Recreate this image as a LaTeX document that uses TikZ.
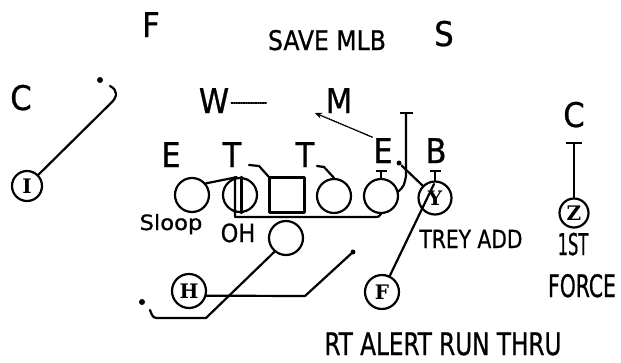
\documentclass[tikz,border=0pt]{standalone}
\usepackage{graphicx}
\usepackage{fontspec}
\setmainfont{DejaVu Sans Condensed}[FakeBold=0.8]
\newfontfamily\circfont{DejaVu Serif}
\usetikzlibrary{arrows.meta}
\begin{document}
\begin{tikzpicture}[x=1pt,y=-1pt, line width=2.2pt, line cap=round, line join=round,
  big/.style={font=\fontsize{34}{34}\selectfont, inner sep=0pt, anchor=base},
  lbl/.style={font=\fontsize{#1}{#1}\selectfont, inner sep=0pt, anchor=base},
  plr/.style={circle, draw, minimum size=34pt, inner sep=0pt},
  sm/.style={circle, draw, minimum size=30pt, inner sep=0pt, font=\circfont\bfseries\fontsize{20}{20}\selectfont},
  ctr/.style={draw, minimum size=35pt, inner sep=0pt},
  dotmark/.style={circle, fill, inner sep=0pt, minimum size=6pt},
  wline/.style={line width=1.4pt, densely dotted}]
\useasboundingbox (0,0) rectangle (621,362);

% labels
\node[big] (F) at (151,37) {F};
\node[lbl=27] (save) at (327,50) {\scalebox{0.97}[1]{SAVE MLB}};
\node[big] (S) at (444,46) {S};
\node[big] (CL) at (21,110) {C};
\node[big] (W) at (214,113) {W};
\node[big] (M) at (339,113) {M};
\node[big] (EL) at (171,167) {E};
\node[big] (T1) at (232,167) {T};
\node[big] (T2) at (305,167) {T};
\node[big] (ER) at (383,163) {E};
\node[big] (B) at (436,163) {B};
\node[big] (CR) at (574,127) {C};

% players
\node[plr] (LT) at (192,195) {};
\node[plr] (LG) at (240,195) {};
\node[ctr] (Cn) at (287,195) {};
\node[plr] (RG) at (334,196) {};
\node[plr] (RT) at (381,196) {};
\node[sm, minimum size=33pt] (Y) at (435,198) {Y};
\node[plr] (FB) at (286,238) {};
\node[sm, minimum size=34pt] (H) at (189,291) {H};
\node[sm, minimum size=34pt] (Fc) at (382,292) {F};
\node[sm] (I) at (27,186) {I};
\node[sm, minimum size=29pt] (Z) at (574,213) {Z};

% text labels
\node[lbl=21] (sloop) at (171,230) {\scalebox{1.2}[1]{Sloop}};
\node[lbl=25] (oh) at (238,242) {OH};
\node[lbl=25] (trey) at (471,248) {\scalebox{0.9}[1]{TREY ADD}};
\node[lbl=30] (first) at (573,255) {\scalebox{0.6}[1]{1ST}};
\node[lbl=31] (force) at (582,297) {\scalebox{0.73}[1]{FORCE}};
\node[lbl=31] (rt) at (443,355) {\scalebox{0.83}[1]{RT ALERT RUN THRU}};

% I route
\coordinate (i1) at (110,104);
\coordinate (i2) at (110,86);
\draw (I) -- (i1) .. controls (118,97) and (118,90) .. (i2);
\node[dotmark] (idot) at (100,80) {};

% W dotted
\coordinate (w1) at (267,103);
\draw[wline] ([xshift=1pt]W.east |- w1) -- (w1);

% M dotted
\coordinate (m1) at (315,113);
\draw[wline, -{Stealth[length=7pt,width=6pt]}] (ER.north west) -- (m1);

% blocks
\coordinate (cb1) at (259,166);
\coordinate (cb2) at (249,165);
\draw (Cn.north west) -- (cb1) -- (cb2);
\coordinate (rgb1) at (324,167);
\coordinate (rgb2) at (317,166);
\draw (RG.north) -- (rgb1) -- (rgb2);
\coordinate (rtb) at (381,170);
\draw[-{Bar[width=11pt]}] (RT.north) -- (rtb);
\coordinate (yb) at (435,170);
\draw[-{Bar[width=11pt]}] (Y.north) -- (yb);

% LT to LG
\draw (LT.40) -- (LG.100);
% LG pull
\coordinate (oh1) at (235,217);
\coordinate (oh2) at (372,217);
\draw ([xshift=-5pt]LG.north) -- (oh1) -- (oh2) .. controls (379,217) .. (RT.south);
\draw ([xshift=1.5pt]LG.north) -- ([xshift=1.5pt]LG.south);

% RT route
\coordinate (rt1) at (406,176);
\coordinate (rt2) at (406,112);
\draw[-{Bar[width=13pt]}] (RT.15) .. controls (404,186) .. (rt1) -- (rt2);

% E route
\node[dotmark, minimum size=5pt] (edot) at (399,163) {};
\draw (edot) -- (Y.135);

% F route through Y
\coordinate (f1) at (434,184);
\draw (Fc) -- (f1);

% FB route
\coordinate (fb1) at (206,318);
\coordinate (fb2) at (160,318);
\coordinate (fb3) at (150,310);
\draw (FB.230) -- (fb1) -- (fb2) .. controls (153,318) .. (fb3);
\node[dotmark] (fbdot) at (142,302) {};

% H route
\coordinate (h1) at (305,296);
\coordinate (h2) at (353,252);
\draw (H.-15) -- (h1) -- (h2);
\node[dotmark, minimum size=5pt] (hdot) at (h2) {};

% Z
\coordinate (crb) at (574,142);
\draw[{Bar[width=16pt]}-] (crb) -- (Z.north);
\end{tikzpicture}
\end{document}
